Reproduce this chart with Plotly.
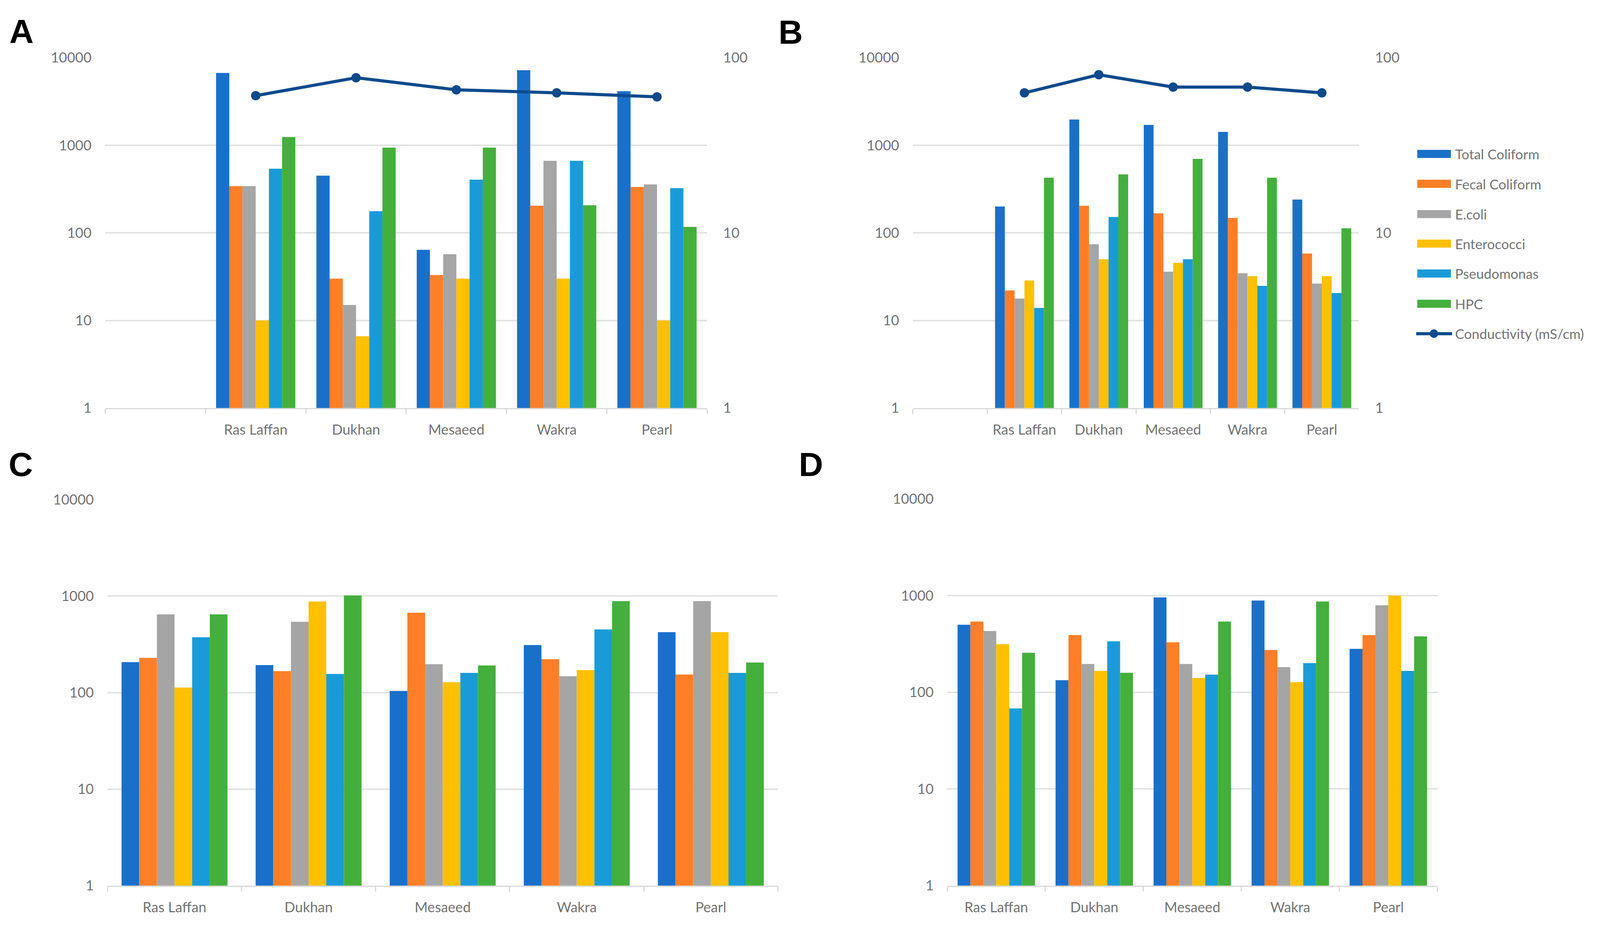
import plotly.graph_objects as go

W, H = 4231, 2384
PAD = 8  # default body margin of the page

sites = ["Ras Laffan", "Dukhan", "Mesaeed", "Wakra", "Pearl"]
blank = " "
series_names = ["Total Coliform", "Fecal Coliform", "E.coli", "Enterococci", "Pseudomonas", "HPC"]
series_colors = ["#1A70C9", "#FE7F27", "#A5A5A5", "#FFC000", "#1A9BD8", "#44AF3C"]
line_name = "Conductivity (mS/cm)"
line_color = "#0E4A8C"

left_ticks = [1, 10, 100, 1000, 10000]
left_ticktext = ["1", "10", "100", "1000", "10000"]
right_ticks = [1, 10, 100]
right_ticktext = ["1", "10", "100"]

# Panel A values (per series, ordered as sites)
A_total_coliform = [6700, 450, 64, 7200, 4150]
A_fecal_coliform = [342, 30, 33, 204, 334]
A_ecoli = [342, 15, 57, 665, 357]
A_enterococci = [10, 6.6, 30, 30, 10]
A_pseudomonas = [540, 177, 405, 665, 324]
A_hpc = [1245, 940, 940, 207, 117]
A_conductivity = [60.7, 76.9, 65.6, 63.0, 59.8]

# Panel B values
B_total_coliform = [200, 1968, 1710, 1422, 240]
B_fecal_coliform = [22, 204, 167, 148, 58]
B_ecoli = [17.8, 74, 36, 34.6, 26.4]
B_enterococci = [28.6, 50, 45.5, 32, 32]
B_pseudomonas = [13.9, 152, 50, 24.8, 20.6]
B_hpc = [427, 466, 700, 427, 113]
B_conductivity = [63, 80, 68, 68, 63]

# Panel C values
C_total_coliform = [207, 193, 104, 311, 423]
C_fecal_coliform = [229, 167, 672, 222, 154]
C_ecoli = [647, 541, 197, 148, 887]
C_enterococci = [113, 880, 128, 171, 423]
C_pseudomonas = [375, 156, 160, 452, 160]
C_hpc = [647, 1015, 191, 887, 205]

# Panel D values
D_total_coliform = [499, 133, 957, 887, 281]
D_fecal_coliform = [538, 390, 328, 274, 390]
D_ecoli = [430, 196, 196, 182, 793]
D_enterococci = [314, 166, 140, 127, 1000]
D_pseudomonas = [68, 336, 152, 200, 166]
D_hpc = [256, 159, 538, 868, 378]

panels = {
    "A": [A_total_coliform, A_fecal_coliform, A_ecoli, A_enterococci, A_pseudomonas, A_hpc],
    "B": [B_total_coliform, B_fecal_coliform, B_ecoli, B_enterococci, B_pseudomonas, B_hpc],
    "C": [C_total_coliform, C_fecal_coliform, C_ecoli, C_enterococci, C_pseudomonas, C_hpc],
    "D": [D_total_coliform, D_fecal_coliform, D_ecoli, D_enterococci, D_pseudomonas, D_hpc],
}
conductivity = {"A": A_conductivity, "B": B_conductivity}


def px(x):
    return (x - PAD) / (W - 2 * PAD)


def py(y):
    return 1 - (y - PAD) / (H - 2 * PAD)


# pixel boxes of plot areas in the target picture: (left, right, top, bottom)
boxes = {
    "A": (278, 1870, 127, 1041),
    "B": (2414, 3594, 127, 1041),
    "C": (284, 2057, 1280, 2287),
    "D": (2505, 3801, 1278, 2287),
}
axis_ids = {"A": ("x", "y", "y2"), "B": ("x2", "y3", "y4"), "C": ("x3", "y5", None), "D": ("x4", "y6", None)}

FONT = "Lato"
TXT = "#737373"
GRID = "#E2E2E2"
tickfont = dict(family=FONT, size=36, color=TXT)

fig = go.Figure()
layout = dict(
    autosize=True, margin=dict(l=0, r=0, t=0, b=0, pad=0),
    paper_bgcolor="white", plot_bgcolor="white",
    barmode="group", bargap=0.21, bargroupgap=0,
    showlegend=False, font=dict(family=FONT, color=TXT),
)

for key, (xa, ya, ya2) in axis_ids.items():
    l, r, t, b = boxes[key]
    cats = ([blank] + sites) if key in ("A", "B") else sites
    for name, color, vals in zip(series_names, series_colors, panels[key]):
        fig.add_trace(go.Bar(x=sites, y=vals, name=name, marker=dict(color=color, line=dict(width=0)),
                             xaxis=xa, yaxis=ya))
    if ya2:
        fig.add_trace(go.Scatter(x=sites, y=conductivity[key], name=line_name, mode="lines+markers",
                                 line=dict(color=line_color, width=8), marker=dict(color=line_color, size=24),
                                 xaxis=xa, yaxis=ya2))
    xname = "xaxis" if xa == "x" else "xaxis" + xa[1:]
    yname = "yaxis" if ya == "y" else "yaxis" + ya[1:]
    layout[xname] = dict(
        domain=[px(l), px(r)], anchor=ya, type="category",
        categoryorder="array", categoryarray=cats, range=[-0.5, len(cats) - 0.5],
        tickson="boundaries", ticks="outside", ticklen=12, tickwidth=3, tickcolor="#D9D9D9",
        showline=True, linecolor="#D9D9D9", linewidth=3, showgrid=False,
        tickfont=tickfont, ticklabelstandoff=22, fixedrange=True,
    )
    layout[yname] = dict(
        domain=[py(b), py(t)], anchor=xa, type="log", range=[0, 4],
        tickvals=left_ticks, ticktext=left_ticktext, showgrid=True, gridcolor=GRID, gridwidth=4,
        zeroline=False, showline=False, ticks="", tickfont=tickfont, ticklabelstandoff=34,
    )
    if ya2:
        y2name = "yaxis" + ya2[1:]
        layout[y2name] = dict(
            overlaying=ya, side="right", anchor=xa, type="log", range=[0, 2],
            tickvals=right_ticks, ticktext=right_ticktext, showgrid=False, zeroline=False,
            showline=False, ticks="", tickfont=tickfont, ticklabelstandoff=40,
        )

# Panel letters
annotations = []
for letter, (x, yc) in {"A": (22, 58), "B": (2057, 60), "C": (20, 1188), "D": (2110, 1188)}.items():
    annotations.append(dict(text=letter, x=px(x), y=py(yc), xref="paper", yref="paper",
                            xanchor="left", yanchor="middle", showarrow=False,
                            font=dict(family="Liberation Sans", size=86, color="black", weight="bold")))

# Legend (drawn next to panel B)
shapes = []
leg_y = [378, 456, 535, 612, 690, 769]
for name, color, yc in zip(series_names, series_colors, leg_y):
    shapes.append(dict(type="rect", xref="paper", yref="paper", x0=px(3748), x1=px(3837),
                       y0=py(yc + 10.5), y1=py(yc - 10.5), fillcolor=color, line=dict(width=0)))
    annotations.append(dict(text=name, x=px(3846), y=py(yc), xref="paper", yref="paper",
                            xanchor="left", yanchor="middle", showarrow=False,
                            font=dict(family=FONT, size=35, color=TXT)))
yc = 847
shapes.append(dict(type="line", xref="paper", yref="paper", x0=px(3745), x1=px(3840),
                   y0=py(yc), y1=py(yc), line=dict(color=line_color, width=8)))
shapes.append(dict(type="circle", xref="paper", yref="paper", x0=px(3781), x1=px(3803),
                   y0=py(yc + 11), y1=py(yc - 11), fillcolor=line_color, line=dict(width=0)))
annotations.append(dict(text=line_name, x=px(3846), y=py(yc), xref="paper", yref="paper",
                        xanchor="left", yanchor="middle", showarrow=False,
                        font=dict(family=FONT, size=35, color=TXT)))

layout["annotations"] = annotations
layout["shapes"] = shapes
fig.update_layout(**layout)
fig.write_html("out.html", default_width="calc(100vw - 16px)", default_height="calc(100vh - 16px)")
